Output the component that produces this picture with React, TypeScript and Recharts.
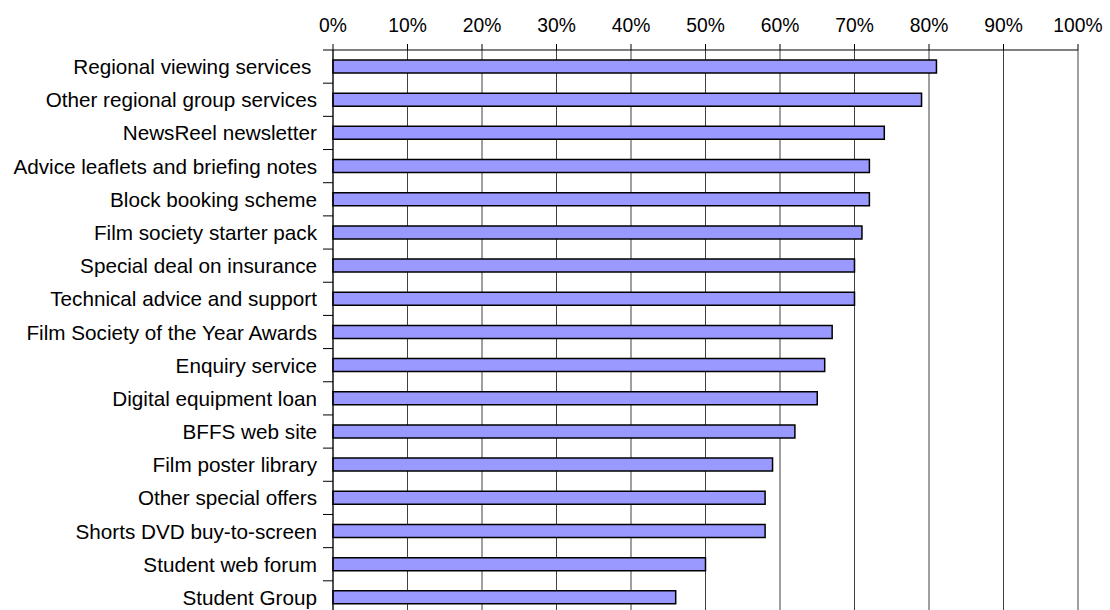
import { BarChart, Bar, XAxis, YAxis, CartesianGrid } from 'recharts'

const services = [
  'Regional viewing services ',
  'Other regional group services',
  'NewsReel newsletter',
  'Advice leaflets and briefing notes',
  'Block booking scheme',
  'Film society starter pack',
  'Special deal on insurance',
  'Technical advice and support',
  'Film Society of the Year Awards',
  'Enquiry service',
  'Digital equipment loan',
  'BFFS web site',
  'Film poster library',
  'Other special offers',
  'Shorts DVD buy-to-screen',
  'Student web forum',
  'Student Group',
]

const shares = [81, 79, 74, 72, 72, 71, 70, 70, 67, 66, 65, 62, 59, 58, 58, 50, 46]

const percentTicks = [0, 10, 20, 30, 40, 50, 60, 70, 80, 90, 100]

const chartData = services.map((name, i) => ({ name, value: shares[i] }))

const W = 1110
const H = 614
const TOP = 50
const BAND = (H - TOP) / services.length
const FONT = '"Liberation Sans", Arial, sans-serif'

function ServiceTick({ x, y, payload }: any) {
  return (
    <g>
      <line x1={x - 2} x2={x + 8} y1={y - BAND / 2} y2={y - BAND / 2} stroke="#000" />
      <text
        x={x - 8}
        y={y}
        textAnchor="end"
        dominantBaseline="central"
        fontSize={20.7}
        fontFamily={FONT}
        fill="#000"
        style={{ whiteSpace: 'pre' }}
      >
        {payload.value}
      </text>
    </g>
  )
}

export default function App() {
  return (
    <div style={{ position: 'fixed', top: 0, left: 0, width: W, height: 610, overflow: 'hidden', background: '#fff' }}>
      <BarChart
        width={W}
        height={H}
        data={chartData}
        layout="vertical"
        margin={{ top: 0, right: 32, bottom: 0, left: 0 }}
        barCategoryGap={0}
      >
        <CartesianGrid horizontal={false} vertical stroke="#000" strokeOpacity={0.75} />
        <XAxis
          type="number"
          orientation="top"
          domain={[0, 100]}
          ticks={percentTicks}
          tickFormatter={(v) => `${v}%`}
          interval={0}
          height={TOP}
          tickSize={6}
          tickMargin={12}
          stroke="#000"
          tick={{ fill: '#000', fontSize: 19.3, fontFamily: FONT }}
        />
        <YAxis
          type="category"
          dataKey="name"
          width={333}
          interval={0}
          tickLine={false}
          stroke="#000"
          tick={<ServiceTick />}
        />
        <Bar
          dataKey="value"
          fill="#9999ff"
          stroke="#000"
          strokeWidth={1.5}
          barSize={13}
          isAnimationActive={false}
        />
      </BarChart>
    </div>
  )
}
